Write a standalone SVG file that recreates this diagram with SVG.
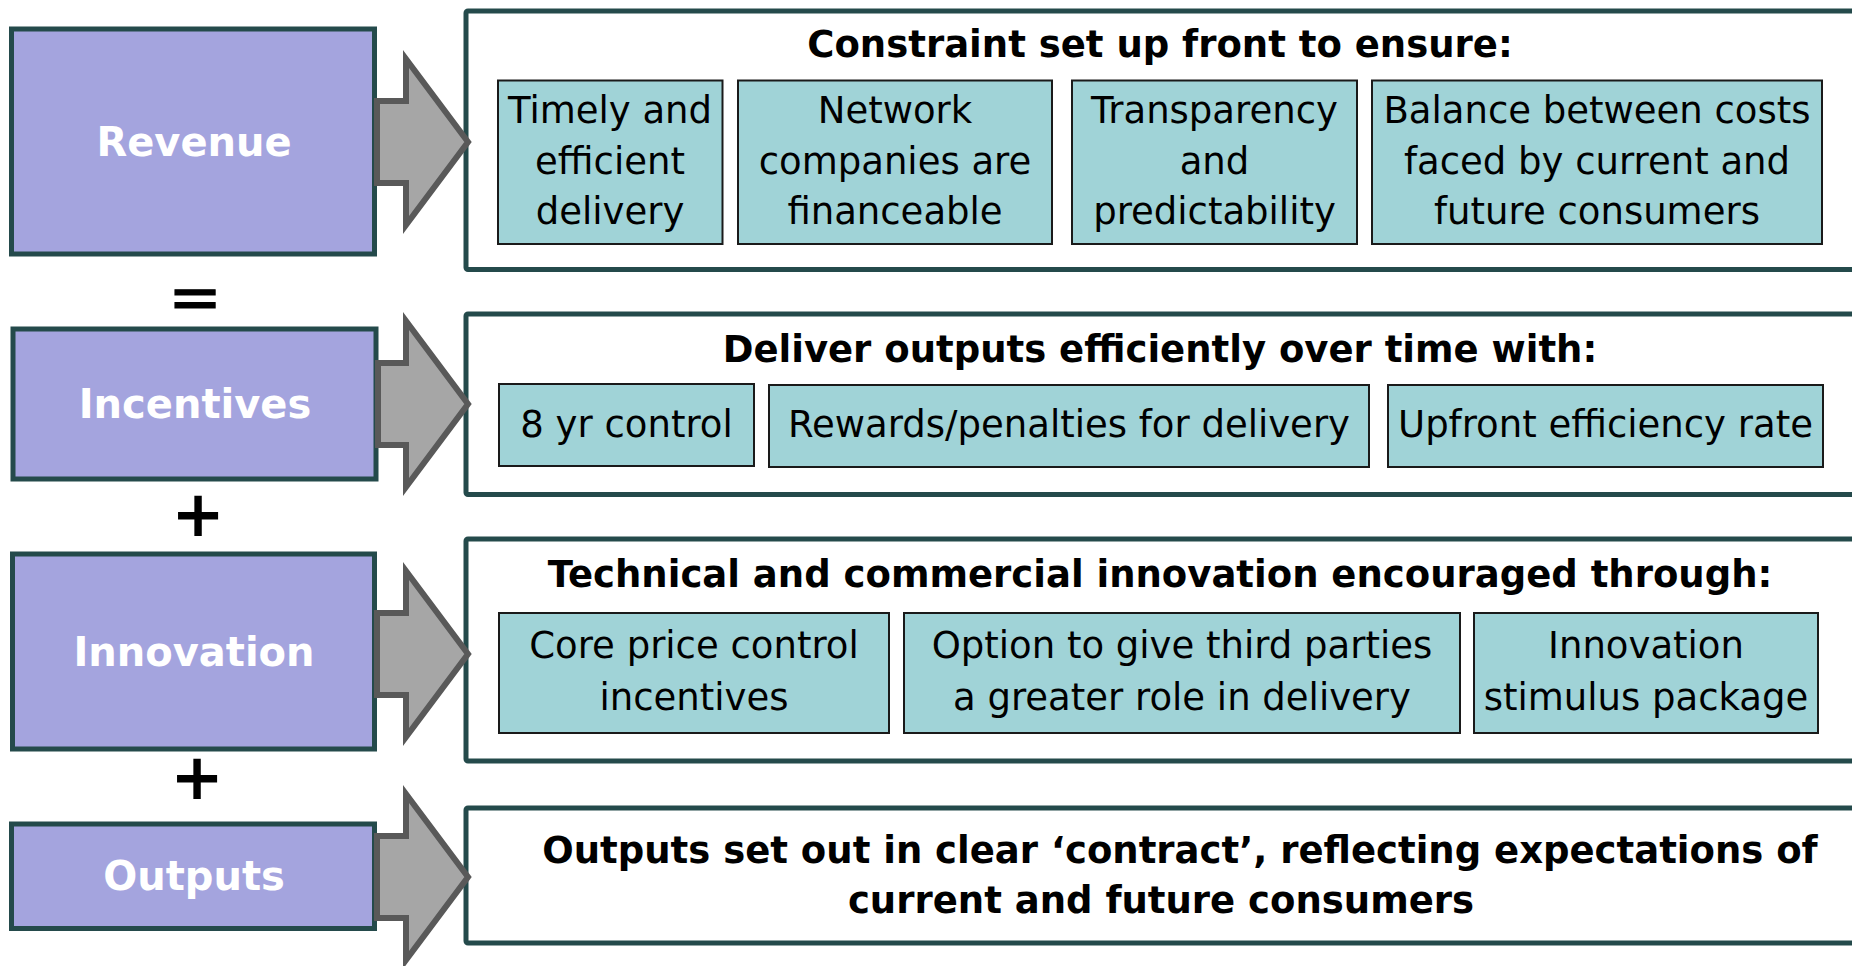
<svg xmlns="http://www.w3.org/2000/svg" width="1852" height="966" viewBox="0 0 1852 966">
<style>
.lbox{fill:#a4a4de;stroke:#244a4b;stroke-width:5}
.lbl{font-family:"DejaVu Sans",Verdana,sans-serif;font-weight:bold;font-size:40px;fill:#ffffff;text-anchor:middle}
.arrow{fill:#a6a6a6;stroke:#595959;stroke-width:6;stroke-linejoin:miter}
.cont{fill:#ffffff;stroke:#244a4b;stroke-width:5}
.ttl{font-family:"DejaVu Sans",Verdana,sans-serif;font-weight:bold;font-size:37px;fill:#000;text-anchor:middle}
.ibox{fill:#a0d3d7;stroke:#1a1a1a;stroke-width:2}
.itx{font-family:"DejaVu Sans",Verdana,sans-serif;font-size:37px;fill:#000;text-anchor:middle}
.op{font-family:"DejaVu Sans",Verdana,sans-serif;fill:#000;text-anchor:middle}
</style>
<rect width="1852" height="966" fill="#ffffff"/>

<g id="revenue">
<rect class="lbox" x="11.5" y="29" width="363" height="225"/>
<text class="lbl" x="194" y="156">Revenue</text>
</g>
<g id="incentives">
<rect class="lbox" x="13" y="329" width="363" height="150"/>
<text class="lbl" x="195" y="418">Incentives</text>
</g>
<g id="innovation">
<rect class="lbox" x="12.5" y="554" width="362" height="195"/>
<text class="lbl" x="194" y="666">Innovation</text>
</g>
<g id="outputs">
<rect class="lbox" x="11.5" y="824" width="363" height="104.5"/>
<text class="lbl" x="194" y="890">Outputs</text>
</g>

<g id="operators">
<text class="op" x="195" y="319" font-size="64" stroke="#000" stroke-width="1.2">=</text>
<text class="op" x="198" y="536" font-size="64" font-weight="bold">+</text>
<text class="op" x="197" y="799" font-size="64" font-weight="bold">+</text>
</g>

<g id="constraint">
<rect class="cont" x="466" y="11" width="1400" height="258.5" rx="2"/>
<text class="ttl" x="1160" y="57">Constraint set up front to ensure:</text>
<rect class="ibox" x="498" y="80.5" width="224.5" height="163.5"/>
<text class="itx" x="610" y="123">Timely and</text>
<text class="itx" x="610" y="174">efficient</text>
<text class="itx" x="610" y="224">delivery</text>
<rect class="ibox" x="738" y="80.5" width="314" height="163.5"/>
<text class="itx" x="895" y="123">Network</text>
<text class="itx" x="895" y="174">companies are</text>
<text class="itx" x="895" y="224">financeable</text>
<rect class="ibox" x="1072" y="80.5" width="285" height="163.5"/>
<text class="itx" x="1214.5" y="123">Transparency</text>
<text class="itx" x="1214.5" y="174">and</text>
<text class="itx" x="1214.5" y="224">predictability</text>
<rect class="ibox" x="1372" y="80.5" width="450" height="163.5"/>
<text class="itx" x="1597" y="123">Balance between costs</text>
<text class="itx" x="1597" y="174">faced by current and</text>
<text class="itx" x="1597" y="224">future consumers</text>
</g>

<g id="deliver">
<rect class="cont" x="466" y="314" width="1400" height="180.5" rx="2"/>
<text class="ttl" x="1160" y="362">Deliver outputs efficiently over time with:</text>
<rect class="ibox" x="499" y="384" width="255" height="82"/>
<text class="itx" x="626.5" y="437">8 yr control</text>
<rect class="ibox" x="769" y="385" width="600" height="82"/>
<text class="itx" x="1069" y="437">Rewards/penalties for delivery</text>
<rect class="ibox" x="1388" y="385" width="435" height="82"/>
<text class="itx" x="1605.5" y="437">Upfront efficiency rate</text>
</g>

<g id="technical">
<rect class="cont" x="466" y="539" width="1400" height="222" rx="2"/>
<text class="ttl" x="1160" y="587">Technical and commercial innovation encouraged through:</text>
<rect class="ibox" x="499" y="613" width="390" height="120"/>
<text class="itx" x="694" y="658">Core price control</text>
<text class="itx" x="694" y="710">incentives</text>
<rect class="ibox" x="904" y="613" width="556" height="120"/>
<text class="itx" x="1182" y="658">Option to give third parties</text>
<text class="itx" x="1182" y="710">a greater role in delivery</text>
<rect class="ibox" x="1474" y="613" width="344" height="120"/>
<text class="itx" x="1646" y="658">Innovation</text>
<text class="itx" x="1646" y="710">stimulus package</text>
</g>

<g id="outputs-contract">
<rect class="cont" x="466" y="808" width="1400" height="135" rx="2"/>
<text class="ttl" x="1180" y="863">Outputs set out in clear ‘contract’, reflecting expectations of</text>
<text class="ttl" x="1161" y="913">current and future consumers</text>
</g>

<g id="connectors">
<polygon class="arrow" points="377,101 406,101 406,59 468,142 406,225 406,183 377,183"/>
<polygon class="arrow" points="378,363 406,363 406,321 468,404 406,487 406,445 378,445"/>
<polygon class="arrow" points="377,613 406,613 406,571 468,654 406,737 406,695 377,695"/>
<polygon class="arrow" points="377,836 406,836 406,794 468,877 406,960 406,918 377,918"/>
</g>
</svg>
